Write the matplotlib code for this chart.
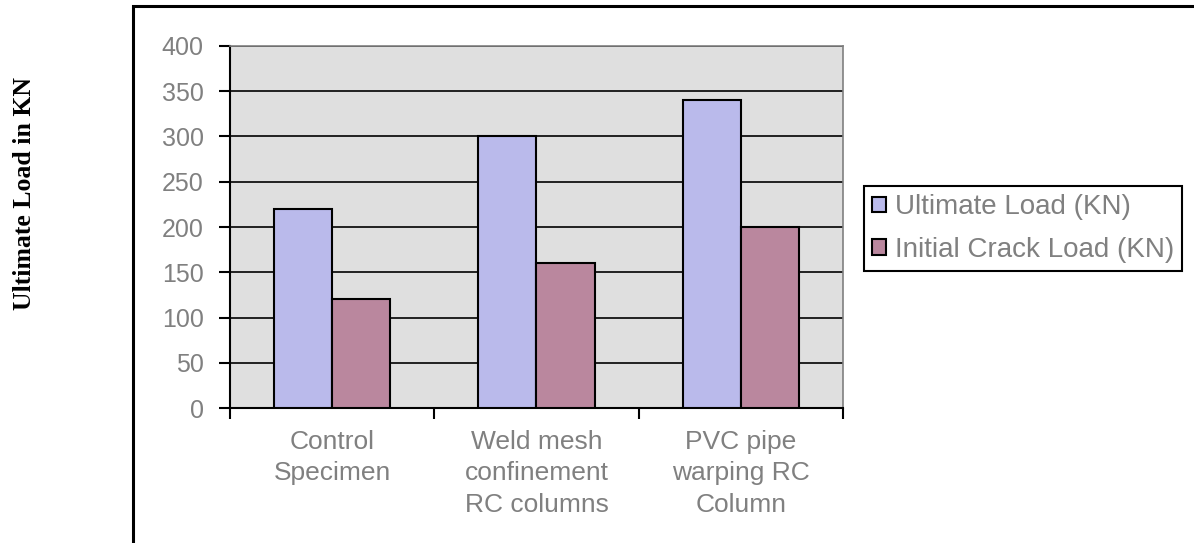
import matplotlib.pyplot as plt
import numpy as np
from matplotlib.patches import Rectangle

categories = ['Control\nSpecimen', 'Weld mesh\nconfinement\nRC columns', 'PVC pipe\nwarping RC\nColumn']
ultimate_load = [220, 300, 340]
crack_load = [120, 160, 200]
series_names = ['Ultimate Load (KN)', 'Initial Crack Load (KN)']

plt.rcParams['font.family'] = 'Liberation Sans'
grey_text = '#808080'

fig = plt.figure(figsize=(11.94, 5.43), dpi=100)
ax = fig.add_axes([0.1926, 0.2486, 0.706 - 0.1926, 0.9153 - 0.2486])

x = np.arange(len(categories)) + 0.5
w = 0.285
ax.bar(x - w / 2, ultimate_load, w, color='#BABAEB', edgecolor='black', linewidth=1.5,
       label=series_names[0], zorder=3)
ax.bar(x + w / 2, crack_load, w, color='#BA879E', edgecolor='black', linewidth=1.5,
       label=series_names[1], zorder=3)

ax.set_facecolor('#DFDFDF')
ax.set_xlim(0, 3)
ax.set_ylim(0, 400)
ax.set_yticks(np.arange(0, 401, 50))
ax.yaxis.grid(True, color='black', linewidth=1.2, zorder=1)
ax.set_axisbelow(True)

ax.set_xticks(x)
ax.set_xticklabels(categories, linespacing=1.38)
ax.set_xticks([0, 1, 2, 3], minor=True)
ax.tick_params(axis='x', which='major', length=0, pad=16, labelsize=19, labelcolor=grey_text)
ax.tick_params(axis='x', which='minor', length=8, width=1.5, direction='out', color='black')
ax.tick_params(axis='y', length=8, width=1.5, direction='out', pad=11, labelsize=18,
               labelcolor=grey_text)

ax.spines['left'].set_linewidth(1.5)
ax.spines['bottom'].set_linewidth(1.5)
ax.spines['top'].set_color('#808080')
ax.spines['right'].set_color('#808080')
ax.spines['top'].set_linewidth(1.2)
ax.spines['right'].set_linewidth(1.2)

leg = ax.legend(loc='upper left', bbox_to_anchor=(864 / 1194, 1 - 186 / 543),
                bbox_transform=fig.transFigure, fontsize=20, frameon=True, fancybox=False,
                edgecolor='black', framealpha=1, handlelength=0.5, handleheight=0.5,
                handletextpad=0.3, borderpad=0.3, labelspacing=0.6, borderaxespad=0)
leg.get_frame().set_linewidth(1.5)
for t in leg.get_texts():
    t.set_color(grey_text)

fig.text(25 / 1194, 1 - 193 / 543, 'Ultimate Load in KN', rotation=90, ha='center',
         va='center', fontsize=18.5, fontweight='bold', family='Liberation Serif')

# outer chart frame, open at the right and bottom
fig.add_artist(Rectangle((133 / 1194, -0.1), 1.2, 1 - 6 / 543 + 0.1,
                         transform=fig.transFigure, fill=False, edgecolor='black',
                         linewidth=2.2))

fig.savefig('out.png', dpi=100)
